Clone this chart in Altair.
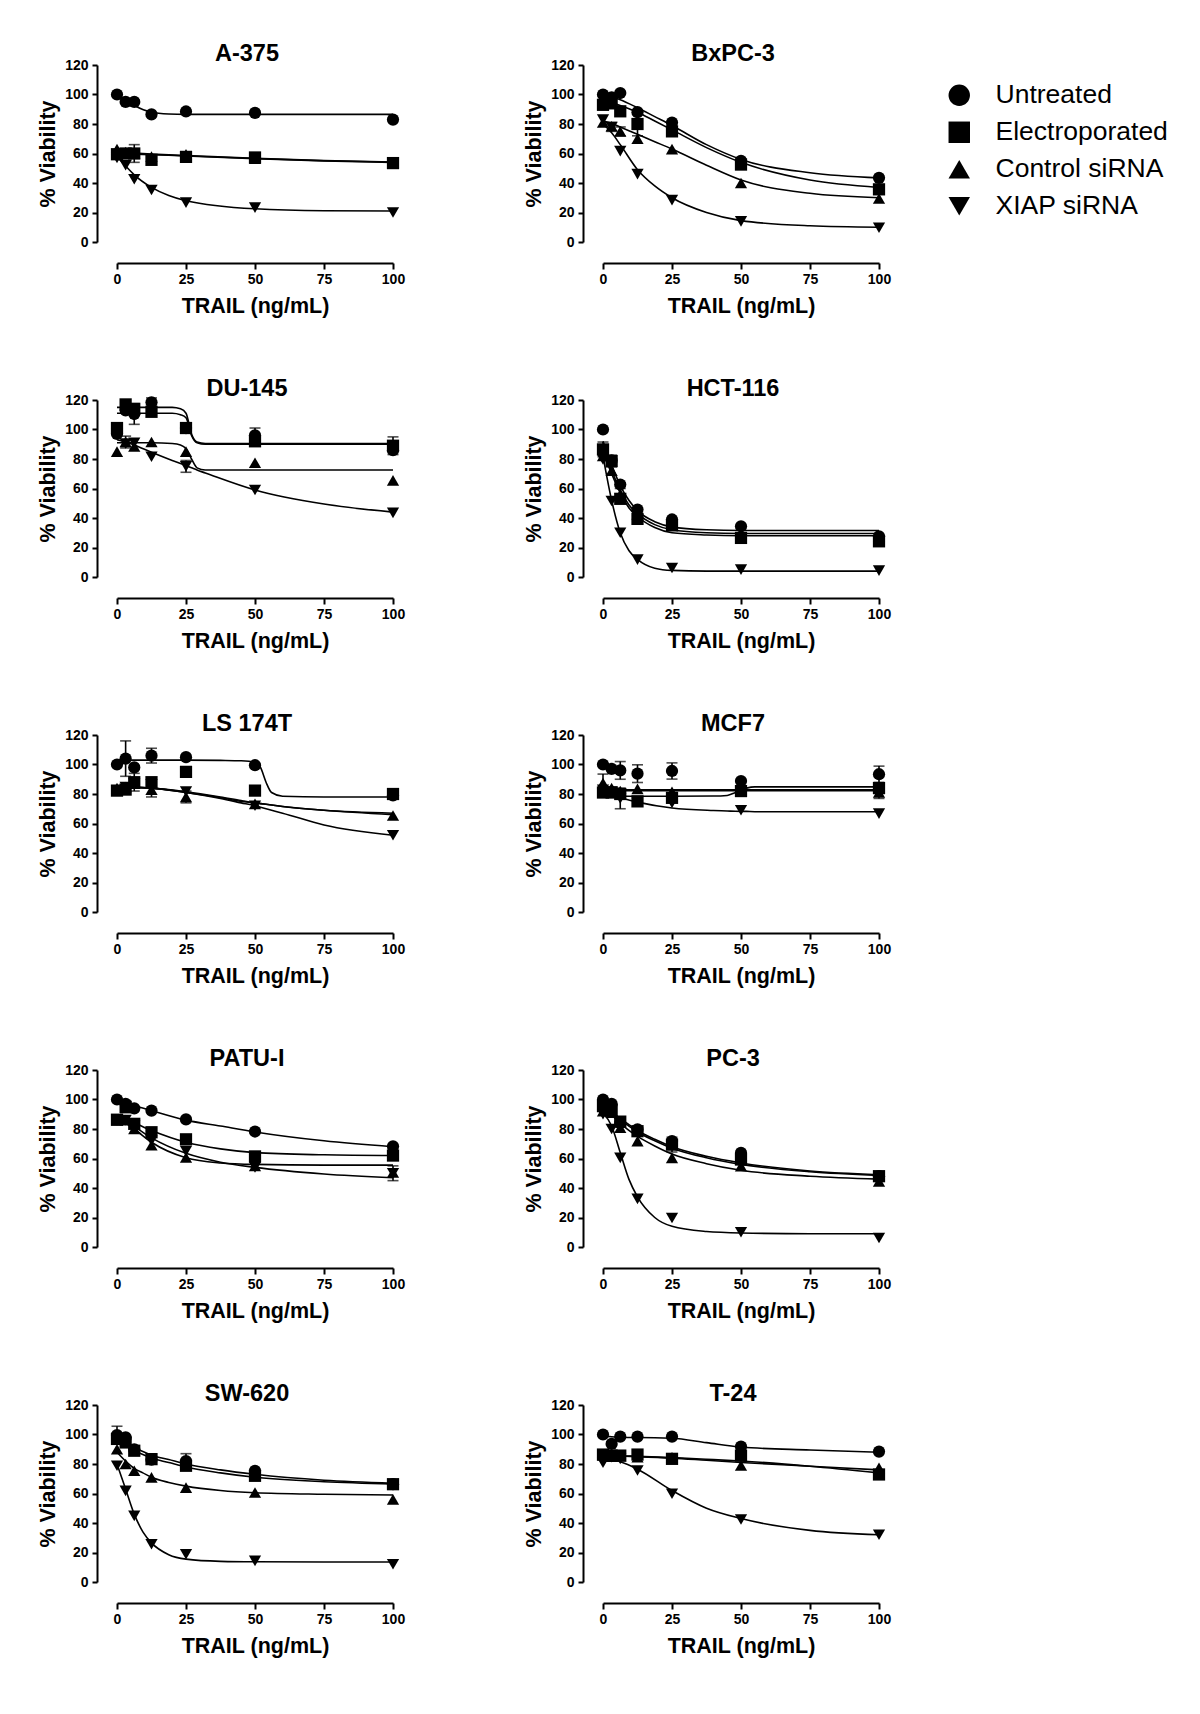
import altair as alt
import pandas as pd

FONT = "Liberation Sans"

DOSES = [0, 3.125, 6.25, 12.5, 25, 50, 100]
SERIES = ["Untreated", "Electroporated", "Control siRNA", "XIAP siRNA"]
SHAPES = ["circle", "square", "triangle-up", "triangle-down"]
CELL_LINES = ["A-375", "BxPC-3", "DU-145", "HCT-116", "LS 174T",
              "MCF7", "PATU-I", "PC-3", "SW-620", "T-24"]
X_TICKS = [0, 25, 50, 75, 100]
Y_TICKS = [0, 20, 40, 60, 80, 100, 120]

# mean % viability at each dose, order: Untreated, Electroporated, Control siRNA, XIAP siRNA
A375_MEAN = [[100, 95, 95, 86.5, 88.5, 87.5, 83],
             [59.5, 60, 60, 55.7, 57.7, 57.3, 53.5],
             [63, 61, 60, 58, 59.5, 56.5, 54],
             [57, 52, 42.5, 35.3, 26.7, 23.3, 20]]
BXPC3_MEAN = [[100, 98, 101, 88, 81, 55, 43.5],
              [93, 94, 88.6, 80, 75, 52.5, 35.7],
              [81, 78.5, 75, 70, 63, 40, 29.5],
              [83, 78, 61.6, 46, 28.4, 14, 9.7]]
DU145_MEAN = [[97, 113, 110.5, 118.4, 101, 96, 86],
              [101, 117, 114, 112, 101, 92, 89],
              [85, 91.5, 88.5, 91.5, 85, 77.5, 65.5],
              [97, 90.5, 91, 81.5, 75, 59, 43.5]]
HCT116_MEAN = [[100, 79, 62.7, 45.7, 39, 34.4, 27.6],
               [86.5, 78.6, 53, 39.4, 35, 26.5, 24.2],
               [82, 72, 56, 42.5, 36.7, 29.9, 27.6],
               [79.7, 51.5, 30, 11.8, 6.1, 5, 4.3]]
LS174T_MEAN = [[100, 104, 98, 106, 105, 99.5, 79],
               [82.3, 83, 88, 88, 95, 82.3, 80],
               [84, 84.7, 87, 83, 78, 73.3, 65.4],
               [82.3, 84.7, 87, 86.6, 81.7, 72, 52]]
MCF7_MEAN = [[100, 97, 96, 93.8, 95.6, 88.8, 93.4],
             [81, 81, 80, 75, 77.4, 82, 84],
             [87.5, 84, 82, 83.5, 81.5, 86.5, 81],
             [82.8, 81.6, 77, 75, 74, 69, 66.7]]
PATUI_MEAN = [[100, 97, 94, 92.5, 86.5, 78.3, 68.3],
              [86.3, 95, 83.5, 77.8, 73, 61.4, 62],
              [86, 86, 80, 69, 60.7, 55, 50.5],
              [86, 86, 82.4, 72, 65, 54, 50]]
PC3_MEAN = [[100, 97, 84, 79.7, 71.8, 63.8, 48],
            [95.5, 93, 85, 78.5, 69.4, 59.3, 48],
            [92, 91, 80.8, 71.8, 60.4, 54.8, 44.5],
            [90, 80, 60.4, 32.6, 19.7, 10, 6.1]]
SW620_MEAN = [[99.6, 98, 90, 83, 82, 75.4, 66.3],
              [97, 94.6, 89, 83.3, 78.8, 72, 66.3],
              [90, 80, 75.4, 70.9, 64, 60.7, 56],
              [78.8, 61.8, 44.8, 25.6, 18.8, 14.3, 12]]
T24_MEAN = [[100, 93.6, 98.6, 98.6, 98.6, 91.8, 88.4],
            [86.4, 85.7, 85.7, 86.4, 83.5, 85.7, 72.9],
            [86, 85, 85.3, 84.6, 84.6, 79, 77.4],
            [80.8, 84.6, 83.5, 75.6, 59.8, 42.4, 32]]

# fitted curves at the listed doses
A375_FIT_X = [0, 3.125, 6.25, 12.5, 18.75, 25, 50, 75, 100]
A375_FIT = [[100, 96, 92.5, 88, 86.8, 86.5, 86.5, 86.5, 86.5],
            [60, 59.8, 59.6, 59.2, 58.8, 58.3, 56.5, 55, 54],
            [61, 60.6, 60.3, 59.7, 59.1, 58.6, 56.7, 55.2, 54.2],
            [58, 51.5, 45.5, 37, 31.5, 28, 22.5, 21.2, 21]]
BXPC3_FIT_X = [0, 3.125, 6.25, 12.5, 18.75, 25, 37.5, 50, 75, 100]
BXPC3_FIT = [[100, 98.5, 96.5, 91, 85, 79, 66, 56, 47, 43.5],
             [96, 94.5, 92.5, 88, 82, 76, 64, 54, 42, 37],
             [82, 80.5, 78, 73, 68, 63, 52, 42, 33, 30],
             [80, 74, 66, 49, 38, 30, 20, 14.5, 11, 10]]
DU145_FIT_X = [0, 3.125, 6.25, 12.5, 20, 23, 25, 27, 29, 32, 50, 75, 100]
DU145_FIT = [[115, 115, 115, 115, 115, 114, 111, 97, 91.5, 90.5, 90.5, 90.5, 90.5],
             [111, 111, 111, 111, 111, 110, 108, 96, 91, 90, 90, 90, 90],
             [91, 91, 91, 91, 90.5, 89.5, 87, 80, 74, 72.5, 72.5, 72.5, 72.5],
             [93, 91.5, 89.5, 84.5, 79, 77, 75.5, 74, 72.5, 70.5, 59, 49.5, 44]]
HCT116_FIT_X = [0, 3.125, 6.25, 9.375, 12.5, 18.75, 25, 37.5, 50, 100]
HCT116_FIT = [[92, 76, 62, 52, 45, 37.5, 34, 32, 31.5, 31.5],
              [85, 70, 57, 47, 41, 33.5, 30, 28.5, 28, 28],
              [86, 72, 59, 49, 43, 35.5, 32, 30, 29.5, 29.5],
              [82, 52, 30, 18, 12, 6, 4.5, 4, 4, 4]]
LS174T_FIT_X = [0, 3.125, 6.25, 12.5, 25, 37.5, 45, 50, 52, 54, 56, 60, 75, 100]
LS174T_FIT = [[103, 103, 103, 103, 103, 102.8, 102.5, 101.5, 98, 88, 81, 78.5, 78, 78],
              [84, 84.5, 84.5, 84, 81.5, 78, 75.5, 74, 73.5, 73, 72.5, 71.5, 69, 67],
              [84, 84.5, 84.5, 84, 81, 77.5, 75, 74, 73.5, 73, 72.5, 71.5, 69, 66],
              [84, 84.5, 84.5, 84, 81, 77, 74, 72, 71, 70, 69, 67, 59, 52]]
MCF7_FIT_X = [0, 3.125, 6.25, 12.5, 25, 40, 45, 48, 52, 55, 75, 100]
MCF7_FIT = [[82.8, 82.8, 82.8, 82.8, 82.8, 82.8, 82.8, 82.8, 82.8, 82.8, 82.8, 82.8],
            [78.5, 78.5, 78.5, 78.5, 78.5, 78.6, 79, 81, 84, 84.8, 84.8, 84.8],
            [82.2, 82.2, 82.2, 82.2, 82.2, 82.2, 82.2, 82.2, 82.2, 82.2, 82.2, 82.2],
            [80, 79, 77.5, 74.5, 70.5, 68.8, 68.5, 68.3, 68.2, 68, 68, 68]]
PATUI_FIT_X = [0, 3.125, 6.25, 12.5, 25, 37.5, 50, 75, 100]
PATUI_FIT = [[100, 98, 96, 92.5, 86, 82, 78, 72, 68],
             [88, 86, 84, 79, 71, 66.5, 64, 62.5, 62],
             [87, 84, 80, 71, 60.5, 57, 56, 55.5, 55.5],
             [87, 84.5, 81.5, 74, 63.5, 57.5, 54, 49.5, 47]]
PC3_FIT_X = [0, 3.125, 6.25, 9.375, 12.5, 18.75, 25, 37.5, 50, 75, 100]
PC3_FIT = [[97, 92, 87, 83, 79, 73, 68, 61.5, 57, 51.5, 49],
           [96, 91, 86, 82, 78, 72, 67, 60.5, 56, 51, 48.5],
           [95, 89.5, 84, 79, 75, 68.5, 63, 56.5, 52, 48, 46],
           [91, 82, 64, 46, 34, 20, 14, 10.5, 9.5, 9, 9]]
SW620_FIT_X = [0, 3.125, 6.25, 9.375, 12.5, 18.75, 25, 37.5, 50, 75, 100]
SW620_FIT = [[98, 94.5, 91, 88.5, 86, 83, 80, 76, 73, 69, 67],
             [96, 92.5, 89, 86.5, 84, 81, 78, 74, 71, 68, 66.5],
             [88, 82, 77, 74, 71, 67.5, 65, 62, 60.5, 59.5, 59],
             [80, 63, 46, 34, 26.5, 18.5, 15.5, 14, 13.7, 13.6, 13.6]]
T24_FIT_X = [0, 3.125, 6.25, 12.5, 25, 37.5, 50, 75, 100]
T24_FIT = [[99, 98.5, 98, 98, 97.5, 94.5, 91.5, 89.5, 88],
           [86, 85.8, 85.5, 85.2, 84.3, 83.2, 82, 78.5, 74],
           [86, 85.7, 85.4, 85, 84, 82.5, 81, 78.5, 76],
           [84, 83, 81.5, 76.5, 62, 50, 43, 35, 32]]

# visible error bars (SD)
ERR_CELL = ["A-375", "BxPC-3", "BxPC-3", "BxPC-3", "DU-145", "DU-145", "DU-145", "DU-145",
            "DU-145", "DU-145", "HCT-116", "HCT-116", "HCT-116", "LS 174T", "LS 174T",
            "LS 174T", "LS 174T", "LS 174T", "MCF7", "MCF7", "MCF7", "MCF7", "MCF7", "MCF7",
            "MCF7", "PATU-I", "PATU-I", "PC-3", "SW-620", "SW-620"]
ERR_SERIES = [1, 1, 2, 3, 0, 2, 3, 0, 1, 0, 1, 1, 2, 0, 0, 2, 1, 2, 0, 0, 0, 0, 3, 2,
              2, 3, 1, 1, 0, 0]
ERR_DOSE = [6.25, 12.5, 6.25, 3.125, 6.25, 3.125, 25, 50, 100, 12.5, 0, 3.125, 6.25,
            3.125, 12.5, 12.5, 6.25, 25, 6.25, 12.5, 25, 100, 6.25, 0, 100, 100, 3.125,
            25, 0, 25]
ERR_SD = [6, 8, 3, 3, 7, 4, 4, 5, 6, 3, 5, 4, 4, 12, 5, 5, 6, 4, 6, 6, 5.5, 5.5, 7, 6,
          4, 5, 4, 5, 6, 5]

MEANS = {"A-375": A375_MEAN, "BxPC-3": BXPC3_MEAN, "DU-145": DU145_MEAN,
         "HCT-116": HCT116_MEAN, "LS 174T": LS174T_MEAN, "MCF7": MCF7_MEAN,
         "PATU-I": PATUI_MEAN, "PC-3": PC3_MEAN, "SW-620": SW620_MEAN, "T-24": T24_MEAN}
FITS = {"A-375": (A375_FIT_X, A375_FIT), "BxPC-3": (BXPC3_FIT_X, BXPC3_FIT),
        "DU-145": (DU145_FIT_X, DU145_FIT), "HCT-116": (HCT116_FIT_X, HCT116_FIT),
        "LS 174T": (LS174T_FIT_X, LS174T_FIT), "MCF7": (MCF7_FIT_X, MCF7_FIT),
        "PATU-I": (PATUI_FIT_X, PATUI_FIT), "PC-3": (PC3_FIT_X, PC3_FIT),
        "SW-620": (SW620_FIT_X, SW620_FIT), "T-24": (T24_FIT_X, T24_FIT)}


def make_panel(cell, show_legend):
    means = MEANS[cell]
    pts = pd.DataFrame([{"series": s, "dose": d, "v": v}
                        for si, s in enumerate(SERIES)
                        for d, v in zip(DOSES, means[si])])
    fx, fy = FITS[cell]
    fit = pd.DataFrame([{"series": s, "dose": d, "v": v}
                        for si, s in enumerate(SERIES)
                        for d, v in zip(fx, fy[si])])
    err_rows = []
    for c, si, d, sd in zip(ERR_CELL, ERR_SERIES, ERR_DOSE, ERR_SD):
        if c == cell:
            m = means[si][DOSES.index(d)]
            err_rows.append({"dose": d, "v": m - sd, "v2": m + sd})
    err = pd.DataFrame(err_rows, columns=["dose", "v", "v2"])
    caps = pd.DataFrame([{"dose": r["dose"], "v": val} for r in err_rows
                         for val in (r["v"], r["v2"])], columns=["dose", "v"])

    x_enc = alt.X("dose:Q",
                  scale=alt.Scale(domain=[0, 100], nice=False, zero=False),
                  axis=alt.Axis(values=X_TICKS, title="TRAIL (ng/mL)", offset=21,
                                tickSize=6, labelPadding=3, titlePadding=9,
                                labelFlush=False))
    y_enc = alt.Y("v:Q",
                  scale=alt.Scale(domain=[0, 120], nice=False),
                  axis=alt.Axis(values=Y_TICKS, title="% Viability", offset=20,
                                tickSize=5, labelPadding=4, titlePadding=5,
                                labelFlush=False))

    if show_legend:
        leg = alt.Legend(orient="none", legendX=343, legendY=17, title=None,
                         symbolSize=460, symbolFillColor="black", symbolStrokeColor="black",
                         symbolStrokeWidth=0, labelFont=FONT, labelFontSize=26.5,
                         labelColor="black", labelOffset=23, rowPadding=10, padding=0,
                         labelLimit=0)
    else:
        leg = None
    shape_enc = alt.Shape("series:N", scale=alt.Scale(domain=SERIES, range=SHAPES),
                          legend=leg)

    rules = alt.Chart(err).mark_rule(color="black", strokeWidth=1.6).encode(
        x=x_enc, y=y_enc, y2="v2:Q")
    capm = alt.Chart(caps).mark_tick(color="black", orient="horizontal", size=11,
                                     thickness=1.6).encode(x=x_enc, y=y_enc)
    lines = alt.Chart(fit).mark_line(color="black", strokeWidth=1.6,
                                     interpolate="monotone").encode(
        x=x_enc, y=y_enc, detail="series:N")
    points = alt.Chart(pts).mark_point(filled=True, color="black", opacity=1,
                                       size=150).encode(
        x=x_enc, y=y_enc, shape=shape_enc)

    return alt.layer(rules, capm, lines, points).properties(
        width=276, height=177,
        title=alt.TitleParams(text=cell, dx=-8))


panels = [make_panel(c, c == "BxPC-3") for c in CELL_LINES]

chart = alt.ConcatChart(
    concat=panels, columns=2, spacing={"row": 158, "column": 210}, bounds="flush",
    padding={"left": 29, "top": 33, "right": 5, "bottom": 5},
).resolve_legend(shape="independent").configure_view(stroke=None).configure_axis(
    grid=False, labelFont=FONT, labelFontWeight="bold", labelFontSize=14,
    labelColor="black", titleFont=FONT, titleFontWeight="bold", titleFontSize=21.5,
    titleColor="black", domainColor="black", domainWidth=2, tickColor="black",
    tickWidth=2,
).configure_title(
    font=FONT, fontSize=23.5, fontWeight="bold", color="black", anchor="middle",
    frame="group", offset=-7,
)

chart.save("out.html", embed_options={"renderer": "svg", "actions": False})
